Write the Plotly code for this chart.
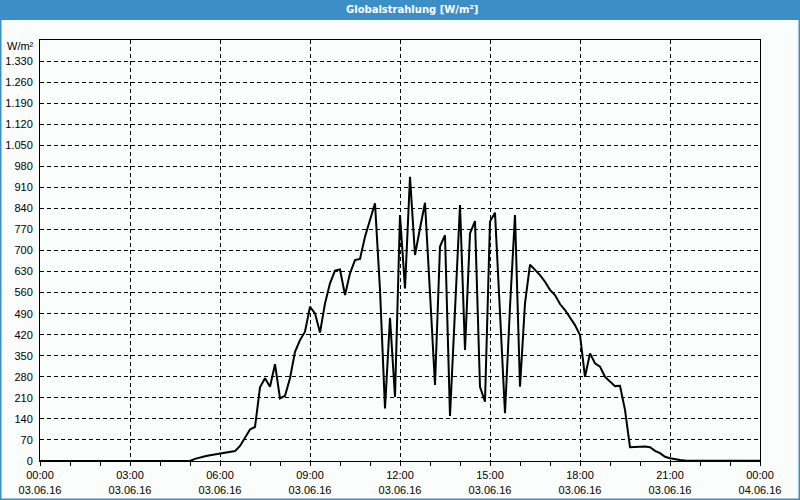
import pandas as pd
import plotly.graph_objects as go

# --- data -------------------------------------------------------------
times = pd.date_range("2016-06-03 00:00", "2016-06-04 00:00", freq="10min")

night_morning = [0] * 31  # 00:00 .. 05:00
day_values = [
    7, 12, 16, 19, 22,            # 05:10-05:50
    24, 27, 30, 33, 50, 80,       # 06
    105, 113, 245, 275, 247, 322, # 07
    208, 217, 275, 363, 402, 430, # 08
    513, 491, 427, 524, 591, 633, # 09
    637, 552, 624, 668, 672, 746, # 10
    805, 857, 569, 175, 476, 213, # 11
    818, 574, 945, 685, 774, 859, # 12
    558, 253, 713, 751, 150, 500, # 13
    851, 369, 757, 798, 247, 197, # 14
    796, 826, 480, 159, 513, 818, # 15
    247, 524, 653, 635, 618, 596, # 16
    569, 552, 522, 502, 478, 452, # 17
    419, 280, 358, 325, 314, 280, # 18
    264, 249, 250, 170, 46, 47,   # 19
    48, 48, 46, 34, 26, 14,       # 20
    9, 5, 3,                      # 21:00-21:20
]
night_evening = [2, 2, 2, 2, 1, 1, 1, 1, 1, 1, 1, 1, 1, 1, 1, 1]  # 21:30 .. 24:00
values = night_morning + day_values + night_evening

y_ticks = list(range(0, 1331, 70))
y_ticktext = [f"{v:,}".replace(",", ".") for v in y_ticks]

x_ticks = pd.date_range("2016-06-03 00:00", "2016-06-04 00:00", freq="3h")
x_ticktext = [f"{t:%H:%M}<br>{t:%d.%m.%y}" for t in x_ticks]

title_text = "Globalstrahlung [W/m²]"
unit_text = "W/m²"

# --- figure -----------------------------------------------------------
W, H = 800, 500
L, R, T, B = 40, 40, 40, 39
pw, ph = W - L - R, H - T - B
BLUE = "#3c8fc6"
BG = "#fbfdfc"
FONT = "Liberation Sans"
TFONT = "DejaVu Sans"

fig = go.Figure()
fig.add_trace(go.Scatter(
    x=times, y=values, mode="lines",
    line=dict(color="black", width=2),
    hoverinfo="skip", showlegend=False,
))

fig.update_layout(
    width=W, height=H,
    margin=dict(l=L, r=R, t=T, b=B, pad=0, autoexpand=False),
    paper_bgcolor=BG, plot_bgcolor=BG,
    font=dict(family=FONT, size=11, color="black"),
    showlegend=False,
)

fig.update_xaxes(
    type="date", automargin=False,
    range=[times[0], times[-1]],
    tickmode="array", tickvals=list(x_ticks), ticktext=x_ticktext,
    ticks="outside", ticklen=4, tickcolor="black", tickwidth=1,
    minor=dict(dtick=3600000, ticks="outside", ticklen=4, tickcolor="black", showgrid=False),
    showgrid=True, gridcolor="black", gridwidth=1, griddash="4px,3px",
    showline=True, linecolor="black", linewidth=1, mirror=True,
    zeroline=False, tickfont=dict(family=FONT, size=11, color="black"),
)
fig.update_yaxes(
    automargin=False,
    range=[0, 1400],
    tickmode="array", tickvals=y_ticks, ticktext=y_ticktext,
    ticks="", ticklabelstandoff=4,
    showgrid=True, gridcolor="black", gridwidth=1, griddash="4px,3px",
    showline=True, linecolor="black", linewidth=1, mirror=True,
    zeroline=False, tickfont=dict(family=FONT, size=11, color="black"),
)

# title bar + outer border
fig.add_shape(type="rect", xref="paper", yref="paper",
              x0=-L / pw, x1=1 + R / pw, y0=1 + (T - 20) / ph, y1=1 + T / ph,
              fillcolor=BLUE, line=dict(width=0), layer="below")
fig.add_shape(type="rect", xref="paper", yref="paper",
              x0=-L / pw, x1=1 + R / pw, y0=-B / ph, y1=1 + T / ph,
              fillcolor="rgba(0,0,0,0)", line=dict(color=BLUE, width=3))

fig.add_annotation(text=f"<b>{title_text}</b>", xref="paper", yref="paper",
                   x=(412 - L) / pw, y=1 + (T - 10) / ph,
                   xanchor="center", yanchor="middle", showarrow=False,
                   font=dict(family=TFONT, size=10, color="white"))
fig.add_annotation(text=unit_text, xref="paper", yref="paper",
                   x=(36 - L) / pw, y=1 - 5.7 / ph,
                   xanchor="right", yanchor="middle", showarrow=False,
                   font=dict(family=FONT, size=11, color="black"))

fig.write_html("out.html")
